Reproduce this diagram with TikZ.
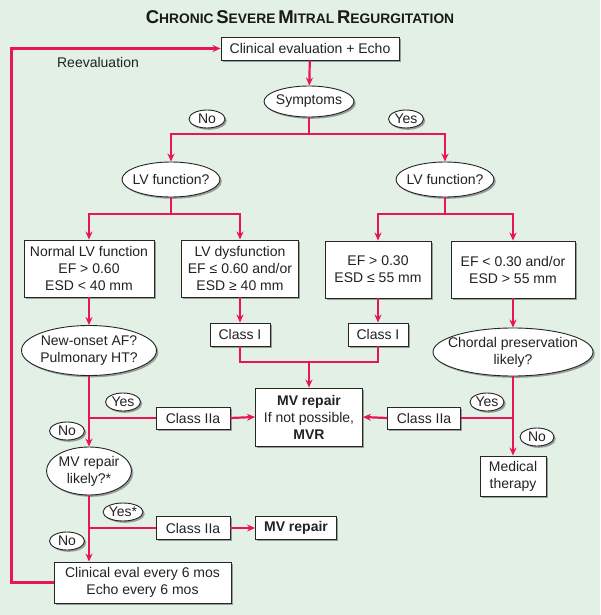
\documentclass[tikz,border=0pt]{standalone}
\usepackage{fontspec}
\setmainfont{Liberation Sans}
\usetikzlibrary{arrows.meta, shapes.geometric, shadows}

\definecolor{mrbg}{RGB}{226,240,230}
\definecolor{mrred}{RGB}{232,22,82}
\definecolor{mrtext}{RGB}{34,34,34}

% fake small caps for the title
\newcommand{\scword}[2]{{\fontsize{18.5}{18.5}\selectfont #1}{\fontsize{13.8}{13.8}\selectfont #2}}

\tikzset{
  shadowed/.style={drop shadow={shadow xshift=1.8pt, shadow yshift=-1.8pt, fill=black!60, opacity=0.6}},
  box/.style={draw=black!85, line width=0.9pt, fill=white, align=center,
    inner sep=2pt, text=mrtext, shadowed},
  oval/.style={ellipse, draw=black!85, line width=0.9pt, fill=white, align=center,
    inner xsep=-12pt, inner ysep=-4pt, text=mrtext, shadowed},
  tag/.style={oval, minimum height=18pt},
  flow/.style={draw=mrred, line width=2.2pt},
}

\begin{document}
\begin{tikzpicture}[x=1pt, y=-1pt, >={Stealth[length=8pt,width=7pt]},
    font=\fontsize{14}{17}\selectfont]

    % 1. background and title
    \fill[mrbg] (0,0) rectangle (600,615);
    \useasboundingbox (0,0) rectangle (600,615);
    \node[font=\bfseries, text=black!90] (title) at (300,17)
      {\scword{C}{HRONIC} \scword{S}{EVERE} \scword{M}{ITRAL} \scword{R}{EGURGITATION}};

    % 2. top of the tree
    \node[box, minimum width=178pt, minimum height=23pt] (eval) at (310,48.5) {Clinical evaluation + Echo};
    \node[text=mrtext] (reeval) at (98,62) {Reevaluation};
    \node[oval, minimum width=90pt, minimum height=31pt] (symp) at (309,101.5) {Symptoms};
    \node[tag, minimum width=36pt] (noA) at (207,119) {No};
    \node[tag, minimum width=35pt] (yesA) at (406,119) {Yes};

    % 3. LV function, both sides
    \node[oval, minimum width=98pt, minimum height=35pt] (lvL) at (171,179.5) {LV function?};
    \node[oval, minimum width=98pt, minimum height=35pt] (lvR) at (445,179.5) {LV function?};

    \node[box, minimum width=130pt, minimum height=57pt] (normal) at (89,268.5)
      {Normal LV function\\EF > 0.60\\ESD < 40 mm};
    \node[box, minimum width=117pt, minimum height=57pt] (dysf) at (240,268.5)
      {LV dysfunction\\EF ≤ 0.60 and/or\\ESD ≥ 40 mm};
    \node[box, minimum width=106pt, minimum height=57pt] (efA) at (378,269.5)
      {EF > 0.30\\ESD ≤ 55 mm};
    \node[box, minimum width=124pt, minimum height=57pt] (efB) at (513,269.5)
      {EF < 0.30 and/or\\ESD > 55 mm};

    % 4. class I and the middle
    \node[box, minimum width=60pt, minimum height=23pt] (classL) at (240,334.5) {Class I};
    \node[box, minimum width=60pt, minimum height=23pt] (classR) at (378,334.5) {Class I};
    \node[oval, minimum width=135pt, minimum height=50pt] (af) at (89,350.5)
      {New-onset AF?\\Pulmonary HT?};
    \node[oval, minimum width=160pt, minimum height=48pt] (chord) at (513,352)
      {Chordal preservation\\likely?};
    \node[box, minimum width=107pt, minimum height=58pt] (mvr) at (309,417)
      {\textbf{MV repair}\\If not possible,\\\textbf{MVR}};
    \node[box, minimum width=74pt, minimum height=22pt] (iiaL) at (193,418) {Class IIa};
    \node[box, minimum width=73pt, minimum height=22pt] (iiaR) at (424,418) {Class IIa};
    \node[tag, minimum width=35pt] (yesL) at (123,402) {Yes};
    \node[tag, minimum width=35pt] (noL) at (67,431) {No};
    \node[tag, minimum width=34pt] (yesR) at (487,402) {Yes};
    \node[tag, minimum width=34pt] (noR) at (537,437) {No};
    \node[box, minimum width=66pt, minimum height=40pt] (med) at (513,476) {Medical\\therapy};

    % 5. lower left branch
    \node[oval, minimum width=85pt, minimum height=48pt] (mvq) at (89,471) {MV repair\\likely?*};
    \node[tag, minimum width=40pt] (yesS) at (123,512) {Yes*};
    \node[box, minimum width=74pt, minimum height=23pt] (iiaB) at (193,528) {Class IIa};
    \node[box, minimum width=81pt, minimum height=23pt] (mvrep) at (296,528) {\textbf{MV repair}};
    \node[tag, minimum width=35pt] (noB) at (67,541) {No};
    \node[box, minimum width=177pt, minimum height=41pt] (follow) at (142.5,582.5)
      {Clinical eval every 6 mos\\Echo every 6 mos};

    % 6. connectors
    \coordinate (sj) at (309,134);
    \coordinate (lj) at (171,214);
    \coordinate (rj) at (445,214);
    \coordinate (cj) at (309,362);
    \coordinate (loopx) at (11.5,0);

    \draw[flow, ->] (eval) -- (symp);
    \draw[flow] (symp.south) -- (sj);
    \draw[flow, ->] (sj) -| (lvL.north);
    \draw[flow, ->] (sj) -| (lvR.north);

    \draw[flow] (lvL.south) -- (lj);
    \draw[flow, ->] (lj) -| (normal.north);
    \draw[flow, ->] (lj) -| (dysf.north);
    \draw[flow] (lvR.south) -- (rj);
    \draw[flow, ->] (rj) -| (efA.north);
    \draw[flow, ->] (rj) -| (efB.north);

    \draw[flow, ->] (normal.south) -- (af.north);
    \draw[flow, ->] (dysf.south) -- (classL.north);
    \draw[flow, ->] (efA.south) -- (classR.north);
    \draw[flow, ->] (efB.south) -- (chord.north);

    \draw[flow] (classL.south) |- (cj) -| (classR.south);
    \draw[flow, ->] (cj) -- (mvr.north);

    \draw[flow, ->] (af.south) -- (mvq.north);
    \draw[flow] (af.south |- iiaL.west) -- (iiaL.west);
    \draw[flow, ->] (iiaL.east) -- (mvr.west);

    \draw[flow, ->] (chord.south) -- (med.north);
    \draw[flow] (chord.south |- iiaR.east) -- (iiaR.east);
    \draw[flow, ->] (iiaR.west) -- (mvr.east);

    \draw[flow, ->] (mvq.south) -- (mvq.south |- follow.north);
    \draw[flow] (mvq.south |- iiaB.west) -- (iiaB.west);
    \draw[flow, ->] (iiaB.east) -- (mvrep.west);

    \draw[flow, ->] (follow.west) -| (loopx |- eval.west) -- (eval.west);

  \end{tikzpicture}
\end{document}
